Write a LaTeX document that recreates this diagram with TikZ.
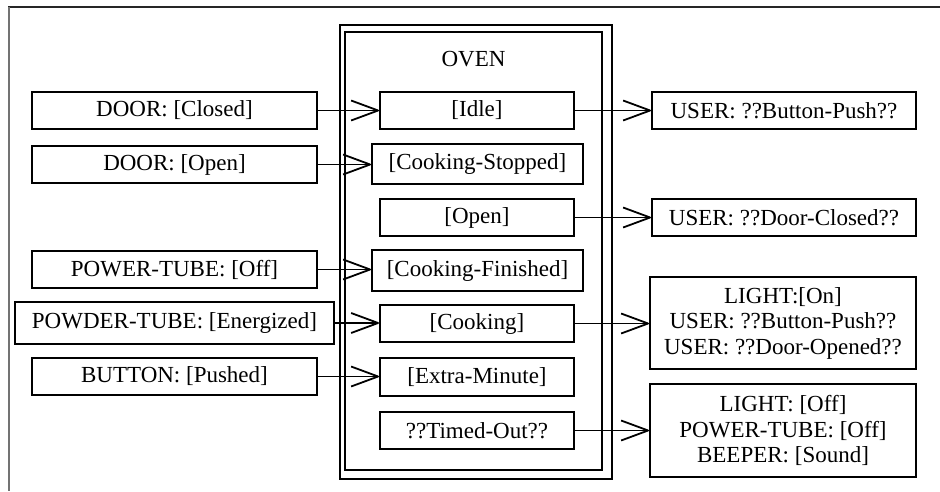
\documentclass[tikz,border=0pt]{standalone}
\usepackage{fontspec}
\setmainfont{Liberation Serif}
\usetikzlibrary{arrows.meta}

% Open "V" arrow head made of two straight strokes
\pgfdeclarearrow{
  name = OpenVee,
  parameters = {\the\pgfarrowlength,\the\pgfarrowwidth},
  setup code = {
    \pgfarrowssettipend{0.9pt}
    \pgfarrowssetlineend{-1pt}
    \pgfarrowssetbackend{-\pgfarrowlength}
    \pgfarrowssavethe\pgfarrowlength
    \pgfarrowssavethe\pgfarrowwidth
  },
  drawing code = {
    \pgfsetdash{}{0pt}
    \pgfsetroundjoin
    \pgfpathmoveto{\pgfqpoint{-\pgfarrowlength}{0.5\pgfarrowwidth}}
    \pgfpathlineto{\pgfpointorigin}
    \pgfpathlineto{\pgfqpoint{-\pgfarrowlength}{-0.5\pgfarrowwidth}}
    \pgfusepathqstroke
  },
  defaults = {length = 27pt, width = 20pt}
}

\tikzset{
  txt/.style={font=\fontsize{23}{25.5}\selectfont},
  box/.style={draw, line width=2pt, rectangle, inner sep=0pt, anchor=center,
              align=center, txt},
  flow/.style={line width=1.8pt, -{OpenVee}},
  frame/.style={line width=2pt}
}

\begin{document}
\begin{tikzpicture}[x=1pt, y=-1pt]
\useasboundingbox (0,0) rectangle (940,491);

% page rules
\draw[line width=2pt, black!85] (8,7) -- (940,7);
\draw[line width=2pt, black!55] (9,7) -- (9,491);

% OVEN container (double frame)
\draw[frame] (340,25) rectangle (611.5,479);
\draw[frame] (345,32) rectangle (602,470);
\node[txt] (oven) at (473.5,59) {OVEN};

% triggers
\node[box, minimum width=285pt, minimum height=37pt] (dclosed) at (174.5,110.5) {DOOR: [Closed]};
\node[box, minimum width=285pt, minimum height=37pt] (dopen)   at (174.5,164.5) {DOOR: [Open]};
\node[box, minimum width=285pt, minimum height=37pt] (ptoff)   at (174.5,269.5) {POWER-TUBE: [Off]};
\node[box, minimum width=319pt, minimum height=42pt] (ptener)  at (174.5,323)   {POWDER-TUBE: [Energized]};
\node[box, minimum width=285pt, minimum height=37pt] (button)  at (174.5,376.5) {BUTTON: [Pushed]};

% oven states
\node[box, minimum width=194pt, minimum height=37pt] (idle)  at (477,110.5)   {[Idle]};
\node[box, minimum width=211pt, minimum height=40pt] (cstop) at (477.5,164)   {[Cooking-Stopped]};
\node[box, minimum width=194pt, minimum height=37pt] (open)  at (477,217.5)   {[Open]};
\node[box, minimum width=211pt, minimum height=41pt] (cfin)  at (477.5,270.5) {[Cooking-Finished]};
\node[box, minimum width=194pt, minimum height=37pt] (cook)  at (477,323.5)   {[Cooking]};
\node[box, minimum width=194pt, minimum height=38pt] (extra) at (477,377)     {[Extra-Minute]};
\node[box, minimum width=194pt, minimum height=37pt] (timed) at (477,430.5)   {??Timed-Out??};

% outputs
\node[box, minimum width=264pt, minimum height=37pt] (ubp) at (784,110.5) {USER: ??Button-Push??};
\node[box, minimum width=264pt, minimum height=37pt] (udc) at (784,217.5) {USER: ??Door-Closed??};
\node[box, minimum width=266pt, minimum height=92pt] (lon) at (783,323)
  {LIGHT:[On]\\USER: ??Button-Push??\\USER: ??Door-Opened??};
\node[box, minimum width=266pt, minimum height=93pt] (loff) at (783,430.5)
  {LIGHT: [Off]\\POWER-TUBE: [Off]\\BEEPER: [Sound]};

% incoming events
\draw[flow] (dclosed.east) -- (dclosed.east -| idle.west);
\draw[flow] (dopen.east)   -- (dopen.east -| cstop.west);
\draw[flow] (ptoff.east)   -- (ptoff.east -| cfin.west);
\draw[flow] (ptener.east)  -- (ptener.east -| cook.west);
\draw[flow] (button.east)  -- (button.east -| extra.west);

% outgoing results
\draw[flow] (idle.east)  -- (idle.east -| ubp.west);
\draw[flow] (open.east)  -- (open.east -| udc.west);
\draw[flow] (cook.east)  -- (cook.east -| lon.west);
\draw[flow] (timed.east) -- (timed.east -| loff.west);
\end{tikzpicture}
\end{document}
